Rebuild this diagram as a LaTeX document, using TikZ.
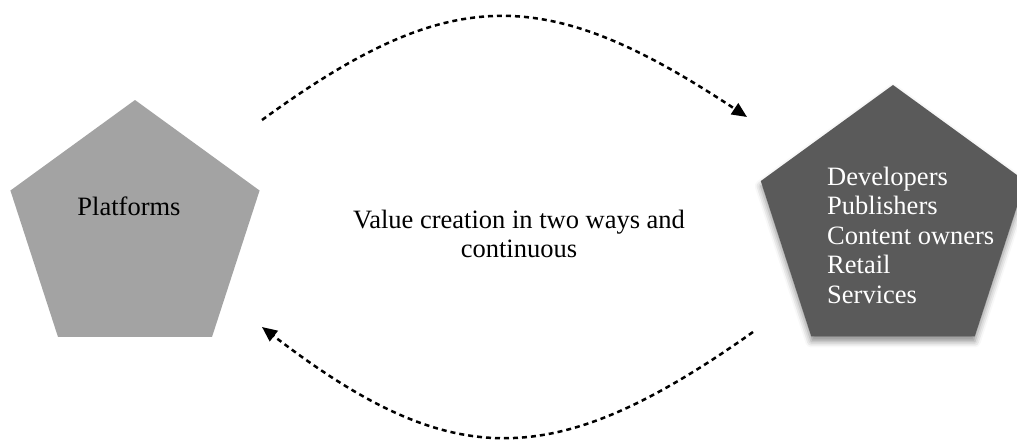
\documentclass[tikz,border=0pt]{standalone}
\usepackage{fontspec}
\setmainfont{Liberation Serif}
\usetikzlibrary{shapes.geometric,arrows.meta,shadows.blur}
\definecolor{lightpent}{HTML}{A3A3A3}
\definecolor{darkpent}{HTML}{5A5A5A}
\begin{document}
\begin{tikzpicture}[x=1pt,y=-1pt,
  pent/.style={regular polygon, regular polygon sides=5, inner sep=0pt, outer sep=0pt, draw=none},
  lbl/.style={font=\fontsize{26.5}{29.5}\selectfont, inner sep=0pt},
  flow/.style={line width=2.5pt, dash pattern=on 5pt off 4pt, -{Triangle[length=15pt,width=13pt]}}
]
\useasboundingbox (0,0) rectangle (1017,439);
\node[pent, fill=lightpent, minimum size=262pt] (plat) at (135,231) {};
\node[pent, fill=darkpent, minimum size=278pt,
  blur shadow={shadow xshift=0pt, shadow yshift=-5pt, shadow blur radius=6pt, shadow opacity=45}] (part) at (893,224) {};
\node[lbl, anchor=base] (platlbl) at (129,215) {Platforms};
\node[lbl, anchor=base west, align=left, text=white] (partlbl) at (827,303)
  {Developers\\Publishers\\Content owners\\Retail\\Services};
\node[lbl, anchor=base, align=center, font=\fontsize{26.5}{29}\selectfont] (mid) at (519,257)
  {Value creation in two ways and\\continuous};
\coordinate (a1) at (262,120);
\coordinate (a2) at (747,117);
\coordinate (b1) at (753,332);
\coordinate (b2) at (262,327);
\draw[flow] (a1) .. controls (450,-17) and (545,-17) .. (a2);
\draw[flow] (b1) .. controls (554,473) and (452,473) .. (b2);
\end{tikzpicture}
\end{document}
